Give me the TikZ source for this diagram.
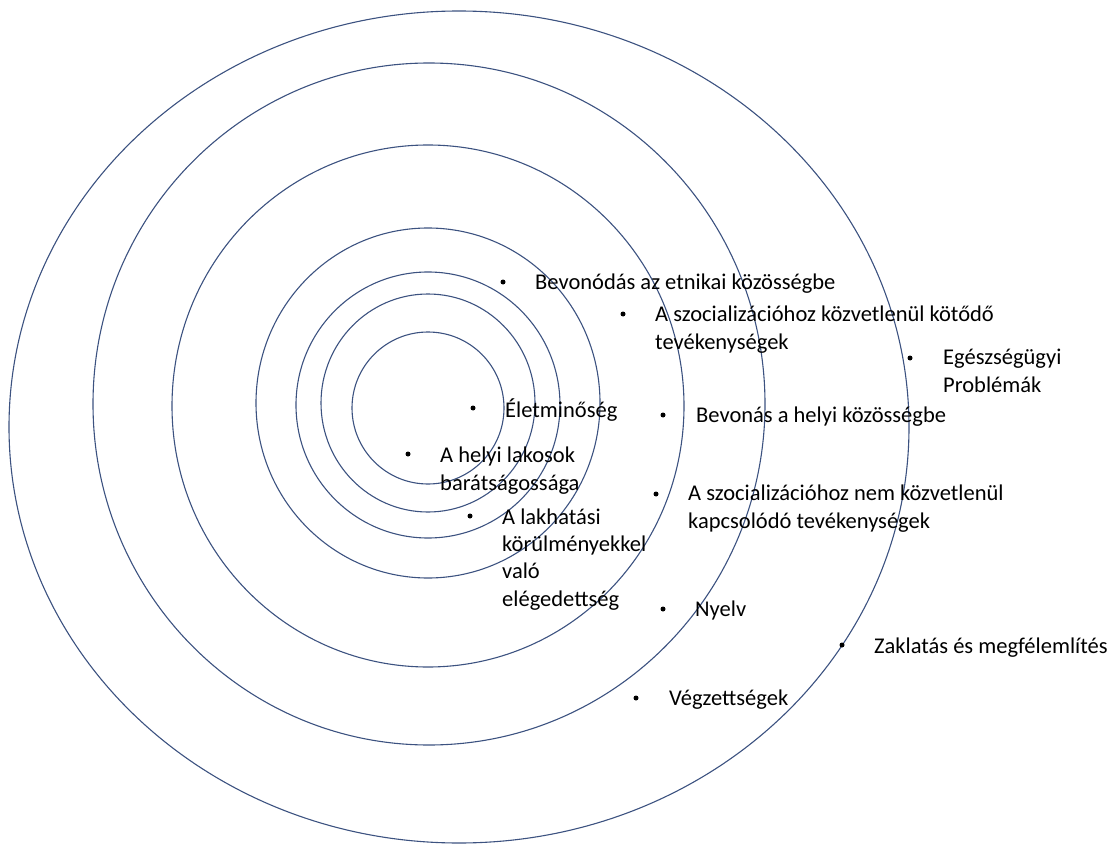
\documentclass[tikz,border=0pt]{standalone}
\usepackage{fontspec}
\setmainfont{Carlito}
\definecolor{ring}{RGB}{60,82,128}
\begin{document}
\begin{tikzpicture}[x=1pt,y=-1pt,
  ring/.style={draw=ring,line width=1.1pt},
  dot/.style={circle,fill=black,inner sep=0pt,minimum size=5pt},
  lbl/.style={anchor=base west,inner sep=0pt,align=left,font=\fontsize{22.5}{27.3}\selectfont}]
\useasboundingbox (0,0) rectangle (1114,845);
% rings
\draw[ring] (459,427) ellipse [x radius=450,y radius=416];
\draw[ring] (429,404) ellipse [x radius=336,y radius=341];
\draw[ring] (428,406) ellipse [x radius=256,y radius=261];
\draw[ring] (428,403) ellipse [x radius=172,y radius=175];
\draw[ring] (428,405) ellipse [x radius=132,y radius=133];
\draw[ring] (428,403) ellipse [x radius=107,y radius=109];
\draw[ring] (428,408) ellipse [x radius=76,y radius=76];
% bullets
\node[dot] (b1) at (503,282) {};
\node[dot] (b2) at (623,314) {};
\node[dot] (b3) at (910,358) {};
\node[dot] (b4) at (473,408) {};
\node[dot] (b5) at (663,415) {};
\node[dot] (b6) at (408,454) {};
\node[dot] (b7) at (656,494) {};
\node[dot] (b8) at (470,516) {};
\node[dot] (b9) at (663,609) {};
\node[dot] (b10) at (842,645) {};
\node[dot] (b11) at (636,698) {};
% labels (base = baseline of last line)
\node[lbl] (t1) at (535,289) {Bevonódás az etnikai közösségbe};
\node[lbl] (t2) at (655,349) {A szocializációhoz közvetlenül kötődő\\tevékenységek};
\node[lbl] (t3) at (943,392) {Egészségügyi\\Problémák};
\node[lbl] (t4) at (505,417) {Életminőség};
\node[lbl] (t5) at (696,422) {Bevonás a helyi közösségbe};
\node[lbl] (t6) at (440,490) {A helyi lakosok\\barátságossága};
\node[lbl] (t7) at (688,528) {A szocializációhoz nem közvetlenül\\kapcsolódó tevékenységek};
\node[lbl] (t8) at (502,606) {A lakhatási\\körülményekkel\\való\\elégedettség};
\node[lbl] (t9) at (695,616) {Nyelv};
\node[lbl] (t10) at (874,653) {Zaklatás és megfélemlítés};
\node[lbl] (t11) at (669,705) {Végzettségek};
\end{tikzpicture}
\end{document}
